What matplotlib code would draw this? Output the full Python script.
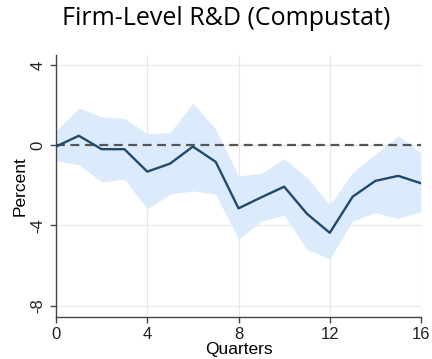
import matplotlib.pyplot as plt
import numpy as np

# impulse response of firm R&D with confidence band
quarters = np.arange(17)
irf = [-0.07, 0.47, -0.2, -0.2, -1.32, -0.92, -0.07, -0.83, -3.15, -2.6, -2.07,
       -3.42, -4.37, -2.57, -1.78, -1.53, -1.9]
upper = [0.72, 1.85, 1.42, 1.33, 0.58, 0.63, 2.1, 0.8, -1.53, -1.4, -0.67,
         -1.62, -2.98, -1.37, -0.45, 0.47, -0.37]
lower = [-0.78, -0.98, -1.83, -1.7, -3.17, -2.45, -2.28, -2.45, -4.7, -3.78, -3.5,
         -5.2, -5.67, -3.78, -3.37, -3.65, -3.32]

plt.rcParams['font.family'] = ['Liberation Sans', 'DejaVu Sans']

fig = plt.figure(figsize=(4.32, 3.59), dpi=100)
ax = fig.add_axes([0.1296, 0.118, 0.845, 0.729])

ax.fill_between(quarters, lower, upper, color='#dcebfc', lw=0, zorder=1)
ax.axhline(0, color='#555555', lw=1.6, ls=(0, (4, 2.5)), zorder=2)
ax.plot(quarters, irf, color='#1f4a6e', lw=1.7, zorder=3)

ax.set_xlim(0, 16)
ax.set_ylim(-8.55, 4.5)
ax.set_xticks([0, 4, 8, 12, 16])
ax.set_yticks([-8, -4, 0, 4])
ax.set_yticklabels(['-8', '-4', '0', '4'], rotation=90, va='center')
ax.grid(True, color='#e8e8e8', lw=0.9)
ax.set_axisbelow(True)

for side in ['top', 'right']:
    ax.spines[side].set_visible(False)
for side in ['left', 'bottom']:
    ax.spines[side].set_color('#444444')
    ax.spines[side].set_linewidth(1.0)
ax.tick_params(colors='#222222', labelsize=12, length=4, width=1.0, color='#444444')

ax.set_xlabel('Quarters', fontsize=12.5, labelpad=0)
ax.set_ylabel('Percent', fontsize=12.5, labelpad=2)
fig.text(0.523, 0.982, 'Firm-Level R&D (Compustat)', fontsize=18, family='Open Sans',
         ha='center', va='top')

fig.savefig('out.png', dpi=100)
